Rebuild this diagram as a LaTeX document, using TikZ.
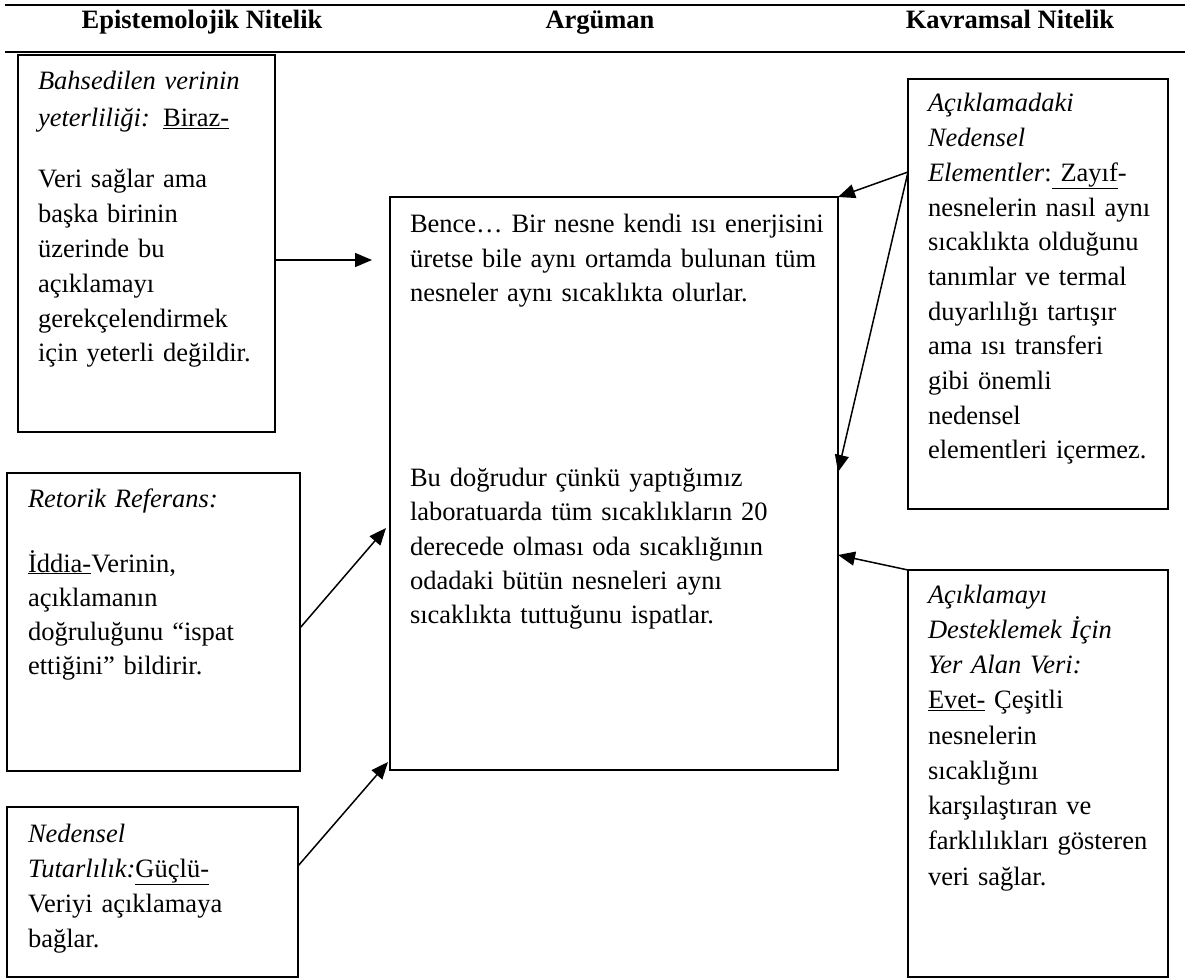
\documentclass[tikz,border=0pt]{standalone}
\usepackage{fontspec}
\setmainfont{Liberation Serif}
\usetikzlibrary{arrows.meta}

\begin{document}
\begin{tikzpicture}[x=1pt,y=-1pt,
  frame/.style={draw, line width=1.6pt, rectangle, inner sep=0pt, outer sep=0pt, anchor=north west},
  body/.style={anchor=base west, inner sep=0pt, outer sep=0pt, align=left, text width=#1},
  head/.style={anchor=base, inner sep=0pt, font=\fontsize{26.5}{30}\selectfont\bfseries},
  arr/.style={line width=1.5pt, -{Triangle[length=17pt,width=14pt]}},
  rule/.style={line width=2pt}
]
\useasboundingbox (0,0) rectangle (1192,979);

% table head: two rules and the three column titles
\coordinate (r0a) at (5,5);     \coordinate (r0b) at (1185,5);
\coordinate (r1a) at (5,52);    \coordinate (r1b) at (1185,52);
\draw[rule] (r0a) -- (r0b);
\draw[rule] (r1a) -- (r1b);
\node[head] (h1) at (202,29) {Epistemolojik Nitelik};
\node[head] (h2) at (600,29) {Argüman};
\node[head] (h3) at (1010,29) {Kavramsal Nitelik};

% frames
\node[frame, minimum width=257pt, minimum height=377pt] (b1)  at (18,55)  {};
\node[frame, minimum width=293pt, minimum height=298pt] (ret) at (7,473)  {};
\node[frame, minimum width=291pt, minimum height=170pt] (ned) at (7,807)  {};
\node[frame, minimum width=448pt, minimum height=573pt] (cen) at (390,197) {};
\node[frame, minimum width=260pt, minimum height=430pt] (rA)  at (908,79)  {};
\node[frame, minimum width=260pt, minimum height=407pt] (rB)  at (908,570) {};

% texts of the left column
\node[body=240pt, font=\fontsize{26.5}{34.8}\selectfont] (b1t) at (38,90)
  {\textit{Bahsedilen verinin}\\[2.2pt]
   \textit{yeterliliği:} \underline{Biraz-}\\[26.2pt]
   Veri sağlar ama\\
   başka birinin\\
   üzerinde bu\\
   açıklamayı\\
   gerekçelendirmek\\
   için yeterli değildir.};

\node[body=270pt, font=\fontsize{26.5}{34.3}\selectfont] (rett) at (28,507)
  {\textit{Retorik Referans:}\\[30.7pt]
   \underline{İddia-}Verinin,\\
   açıklamanın\\
   doğruluğunu “ispat\\
   ettiğini” bildirir.};

\node[body=270pt, font=\fontsize{26.5}{35}\selectfont] (nedt) at (28,842)
  {\textit{Nedensel}\\
   \textit{Tutarlılık:}\underline{Güçlü-}\\
   Veriyi açıklamaya\\
   bağlar.};

% argument text
\node[body=425pt, font=\fontsize{26.5}{34.3}\selectfont] (cent) at (410,233)
  {Bence… Bir nesne kendi ısı enerjisini\\
   üretse bile aynı ortamda bulunan tüm\\
   nesneler aynı sıcaklıkta olurlar.\\[150.7pt]
   Bu doğrudur çünkü yaptığımız\\
   laboratuarda tüm sıcaklıkların 20\\
   derecede olması oda sıcaklığının\\
   odadaki bütün nesneleri aynı\\
   sıcaklıkta tuttuğunu ispatlar.};

% texts of the right column
\node[body=238pt, font=\fontsize{26.5}{34.7}\selectfont] (rAt) at (928,112)
  {\textit{Açıklamadaki}\\
   \textit{Nedensel}\\
   \textit{Elementler}:\underline{\ Zayıf}-\\
   nesnelerin nasıl aynı\\
   sıcaklıkta olduğunu\\
   tanımlar ve termal\\
   duyarlılığı tartışır\\
   ama ısı transferi\\
   gibi önemli\\
   nedensel\\
   elementleri içermez.};

\node[body=238pt, font=\fontsize{26.5}{35.25}\selectfont] (rBt) at (928,603)
  {\textit{Açıklamayı}\\
   \textit{Desteklemek İçin}\\
   \textit{Yer Alan Veri:}\\
   \underline{Evet-} Çeşitli\\
   nesnelerin\\
   sıcaklığını\\
   karşılaştıran ve\\
   farklılıkları gösteren\\
   veri sağlar.};

% arrow ends near the argument frame
\coordinate (e1) at (372,260);
\coordinate (e2) at (386,528);
\coordinate (e3) at (388,762);

% connectors
\draw[arr] (b1.east |- e1) -- (e1);
\draw[arr] ([yshift=-6pt]ret.east) -- (e2);
\draw[arr] ([yshift=26pt]ned.east) -- (e3);
\draw[arr] ([yshift=122pt]rA.west) -- (cen.north east);
\draw[arr] ([yshift=122pt]rA.west) -- (cen.east |- 0,472);
\draw[arr] (rB.north west) -- (cen.east |- 0,555);
\end{tikzpicture}
\end{document}
